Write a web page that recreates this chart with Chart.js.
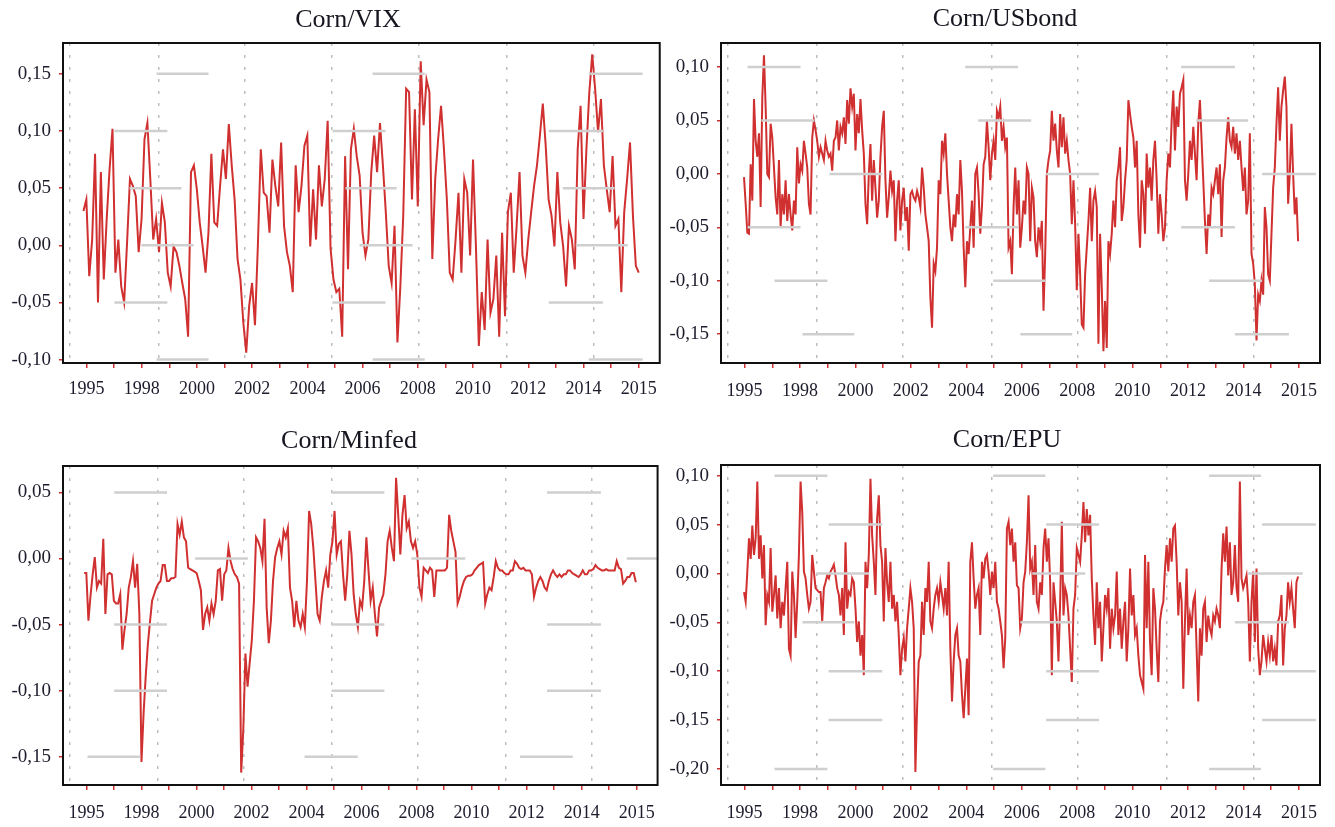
<!DOCTYPE html>
<html>
<head>
<meta charset="utf-8">
<script src="https://cdn.jsdelivr.net/npm/chart.js@4.4.1/dist/chart.umd.min.js"></script>
<style>
html, body { margin: 0; padding: 0; background: #fff; }
canvas { position: absolute; }
</style>
</head>
<body>
<canvas id="cVix" width="667" height="413" style="left:0;top:0"></canvas>
<canvas id="cBond" width="668" height="413" style="left:667px;top:0"></canvas>
<canvas id="cMinfed" width="667" height="414" style="left:0;top:413px"></canvas>
<canvas id="cEpu" width="668" height="414" style="left:667px;top:413px"></canvas>
<script>
// tick labels under the yearly ticks (0..20), as printed in the source figure
const yearLabels = ['1995', '', '1998', '', '2000', '', '2002', '', '2004', '', '2006', '',
                    '2008', '', '2010', '', '2012', '', '2014', '', '2015'];
// dotted vertical reference lines (same positions on all panels)
const dotGrid = [-0.6, 2.6, 5.72, 8.9, 12.03, 15.23, 18.38];

// Corn/VIX dynamic correlation
const vixValues = [
  0.030, 0.040, -0.027, 0.005, 0.080, -0.050, 0.064, -0.030, 0.023, 0.067,
  0.102, -0.024, 0.005, -0.036, -0.050, 0.002, 0.058, 0.052, 0.043, -0.006,
  0.023, 0.093, 0.107, 0.058, 0.005, 0.023, -0.006, 0.037, 0.020, -0.024,
  -0.036, -0.001, -0.006, -0.018, -0.033, -0.047, -0.080, 0.064, 0.070, 0.049,
  0.020, -0.001, -0.024, 0.011, 0.080, 0.020, 0.017, 0.052, 0.084, 0.058,
  0.106, 0.070, 0.040, -0.012, -0.030, -0.068, -0.094, -0.053, -0.033, -0.070,
  0.000, 0.084, 0.046, 0.043, 0.011, 0.075, 0.052, 0.034, 0.090, 0.017,
  -0.006, -0.018, -0.041, 0.070, 0.029, 0.052, 0.087, 0.096, -0.001, 0.049,
  0.005, 0.070, 0.034, 0.058, 0.109, -0.003, -0.030, -0.041, -0.038, -0.080,
  0.078, -0.021, 0.084, 0.102, 0.078, 0.061, 0.011, -0.009, 0.005,
  0.064, 0.096, 0.064, 0.107, 0.070, 0.029, -0.018, -0.033, 0.017, -0.085,
  -0.036, 0.026, 0.137, 0.134, 0.040, 0.119, 0.034, 0.161, 0.105, 0.145,
  0.134, -0.012, 0.058, 0.093, 0.122, 0.084, 0.040, -0.024, -0.030, 0.005,
  0.046, -0.024, 0.058, 0.046, -0.009, 0.075, -0.001, -0.088, -0.041, -0.074,
  0.005, -0.059, -0.047, -0.009, -0.080, 0.011, -0.062, 0.029, 0.046, -0.024,
  0.017, 0.064, -0.009, -0.024, 0.005, 0.029, 0.052, 0.070, 0.096, 0.124,
  0.087, 0.040, 0.026, -0.001, 0.064, 0.020, -0.001, -0.036, 0.017, 0.005,
  -0.021, 0.084, 0.122, 0.023, 0.084, 0.134, 0.167, 0.137, 0.099, 0.128,
  0.070, 0.049, 0.029, 0.078, 0.017, 0.023, -0.041, 0.029, 0.058, 0.090,
  0.026, -0.018, -0.024
];

// Corn/USbond
const bondValues = [
  -0.003, -0.028, -0.055, -0.056, 0.009, -0.025, 0.070, 0.031, 0.016, 0.038,
  -0.031, 0.072, 0.111, 0.063, 0.000, -0.003, 0.047, 0.034, 0.006, -0.022,
  -0.038, 0.013, -0.050, -0.019, -0.038, -0.006, -0.044, -0.019, -0.038, -0.053,
  -0.025, -0.038, 0.025, -0.009, 0.009, 0.003, 0.031, 0.019, 0.006, -0.028,
  -0.038, 0.034, 0.050, 0.041, 0.031, 0.016, 0.025, 0.019, 0.013, 0.031,
  0.022, 0.016, 0.019, 0.003, 0.031, 0.034, 0.050, 0.022, 0.044, 0.038,
  0.053, 0.028, 0.069, 0.047, 0.080, 0.063, 0.075, 0.022, 0.056, 0.038,
  0.070, 0.041, 0.019, -0.028, -0.047, 0.000, 0.028, -0.025, 0.013, -0.013,
  -0.041, -0.025, 0.016, 0.044, 0.059, -0.006, -0.041, -0.022, 0.003, -0.016,
  -0.006, -0.063, -0.025, -0.006, -0.053, -0.025, -0.013, -0.044, -0.031, -0.072,
  -0.019, -0.016, -0.022, -0.025, -0.016, -0.022, -0.031, 0.006, -0.013, -0.038,
  -0.050, -0.063, -0.116, -0.144, -0.084, -0.091, -0.069, -0.006, -0.019, 0.031,
  0.019, 0.038, 0.000, -0.025, -0.050, -0.063, -0.038, -0.050, -0.019, -0.038,
  0.013, -0.016, -0.069, -0.106, -0.063, -0.075, -0.050, -0.025, -0.069, 0.000,
  0.006, -0.019, -0.056, -0.031, 0.009, 0.016, 0.050, 0.025, -0.006, 0.019,
  0.031, 0.013, 0.059, 0.053, 0.063, 0.031, 0.044, 0.025, 0.034, -0.069,
  -0.063, -0.094, -0.031, 0.006, -0.038, -0.006, -0.069, -0.050, -0.025, -0.038,
  0.006, 0.000,
  -0.063, -0.013, -0.022, -0.063, -0.078, -0.050, -0.063, -0.044, -0.128, -0.075,
  0.000, 0.013, 0.022, 0.059, 0.031, 0.047, 0.022, 0.006, 0.056, 0.025,
  0.053, 0.019, 0.031, 0.013, 0.000, -0.047, -0.006, -0.047, -0.109, -0.056,
  -0.094, -0.141, -0.144, -0.094, -0.069, -0.044, -0.013, -0.063, -0.025, -0.016,
  -0.031, -0.159, -0.056, -0.106, -0.166, -0.119, -0.163, -0.063, -0.075, -0.056,
  -0.025, -0.050, -0.006, 0.006, 0.025, -0.044, -0.031, -0.006, 0.013, 0.069,
  0.056, 0.044, 0.034, 0.006, 0.031, -0.038, -0.069, -0.006, -0.019, -0.056,
  0.019, -0.013, 0.006, -0.025, 0.013, 0.031, -0.006, -0.056, -0.019, -0.038,
  -0.063, -0.050, -0.006, 0.019, 0.006, 0.050, 0.078, 0.022, 0.063, 0.044,
  0.075, 0.081, 0.088, -0.006, -0.025, 0.000, 0.031, 0.013, 0.044, 0.019,
  -0.006, 0.047, 0.069, 0.031, -0.006, -0.044, -0.075, -0.038, -0.050, -0.013,
  -0.019, -0.006, 0.006, -0.019, 0.009, -0.059, -0.006, 0.006, 0.034, 0.053,
  0.031, 0.025, 0.044, 0.019, 0.038, 0.013, 0.031, 0.006, -0.016, 0.006,
  -0.038, -0.025, 0.038, -0.075, -0.084, -0.103, -0.156, -0.113, -0.119, -0.100,
  -0.113, -0.031, -0.050, -0.094, -0.100, -0.056, -0.013, 0.006, 0.047, 0.081,
  0.031, 0.063, 0.078, 0.091, 0.063, -0.028, 0.000, 0.047, 0.000, -0.038,
  -0.022, -0.063
];

// Corn/Minfed
const minfedValues = [
  -0.011, -0.011, -0.047, -0.028, -0.012, 0.001, -0.022, -0.017, -0.019, 0.015,
  -0.042, -0.012, -0.011, -0.012, -0.032, -0.034, -0.034, -0.027, -0.069, -0.054,
  -0.042, -0.022, -0.014, -0.002, -0.022, -0.004, -0.042, -0.154, -0.117, -0.089,
  -0.065, -0.048, -0.032, -0.027, -0.022, -0.019, -0.017, -0.005, -0.005, -0.017,
  -0.017, -0.015, -0.015, -0.014, 0.026, 0.018, 0.028, 0.016, 0.013, -0.007,
  -0.008, -0.009, -0.010, -0.011, -0.017, -0.024, -0.054, -0.042, -0.037, -0.047,
  -0.034, -0.042, -0.032, -0.009, -0.008, -0.032, -0.012, -0.009, 0.008, -0.002,
  -0.008, -0.012, -0.014, -0.019, -0.162, -0.129, -0.072, -0.097, -0.079, -0.062,
  -0.032, 0.016, 0.013, 0.008, -0.002, 0.030, -0.037, -0.064, -0.047, -0.017,
  0.001, 0.008, 0.013, 0.003, 0.021, 0.016, 0.023, -0.022, -0.032, -0.052,
  -0.032, -0.047, -0.052, -0.042, -0.052, -0.017, 0.036, 0.026, 0.008, -0.017,
  -0.042, -0.047, -0.029, -0.017, -0.009, -0.022, 0.003, 0.013, 0.036, 0.003,
  0.011, 0.013, -0.012, -0.032, -0.012, 0.021, 0.003, -0.027, -0.042, -0.052,
  -0.032, -0.037, -0.017, 0.016, -0.009, -0.032, -0.022, -0.042, -0.059, -0.037,
  -0.032, -0.027, -0.012, 0.013, 0.021, 0.008, -0.002, 0.061, 0.033, 0.003,
  0.033, 0.048, 0.023, 0.028, 0.013, 0.008, 0.013, 0.003, -0.022, -0.029,
  -0.007, -0.009, -0.011, -0.007, -0.009, -0.029, -0.009, -0.009, -0.009, -0.009,
  -0.009, -0.007, 0.033, 0.021, 0.013, 0.005, -0.034, -0.029, -0.022, -0.017,
  -0.014, -0.013, -0.013, -0.012, -0.009, -0.007, -0.005, -0.004, -0.003, -0.034,
  -0.027, -0.022, -0.024, -0.014, -0.002, -0.007, -0.009, -0.009, -0.011, -0.012,
  -0.012, -0.009, -0.009, -0.002, -0.004, -0.007, -0.008, -0.007, -0.009, -0.009,
  -0.009, -0.012, -0.029, -0.022, -0.017, -0.014, -0.017, -0.022, -0.024, -0.017,
  -0.012, -0.009, -0.012, -0.014, -0.012, -0.014, -0.012, -0.012, -0.009, -0.009,
  -0.011, -0.012, -0.013, -0.014, -0.012, -0.009, -0.012, -0.012, -0.009, -0.009,
  -0.008, -0.005, -0.007, -0.008, -0.009, -0.009, -0.008, -0.009, -0.009, -0.009,
  -0.009, -0.002, -0.007, -0.008, -0.019, -0.017, -0.014, -0.014, -0.011, -0.011,
  -0.018
];

// Corn/EPU
const epuValues = [
  -0.019, -0.029, 0.002, 0.036, 0.015, 0.049, 0.019, 0.036, 0.094, 0.015,
  0.039, -0.005, 0.029, -0.053, -0.022, -0.029, 0.026, -0.039, -0.022, -0.002,
  -0.046, -0.015, -0.056, -0.029, -0.043, -0.015, 0.012, -0.077, -0.084, 0.002,
  -0.022, -0.066, -0.029, 0.019, 0.094, 0.063, 0.002, -0.005, -0.022, -0.036,
  -0.029, 0.019, 0.002, -0.015, -0.017, -0.019, -0.019, -0.049, -0.015, -0.009,
  -0.002, -0.005, 0.002, 0.005, 0.009, -0.002, -0.015, -0.022, -0.043, -0.015,
  -0.063, 0.032, -0.036, -0.019, -0.022, -0.005, -0.009, -0.036, -0.070, -0.049,
  -0.084, -0.063, -0.104, 0.012, -0.015, 0.019, 0.097, 0.039, 0.012, -0.022,
  0.056, 0.080, 0.029, 0.012, -0.049, 0.026, -0.009, -0.029, 0.012, -0.036,
  -0.022, -0.049, -0.029, -0.063, -0.104, -0.077, -0.066, -0.090, -0.056, -0.036,
  -0.015, -0.029, -0.056, -0.203, -0.138, -0.090, -0.084, -0.029, -0.063, -0.015,
  -0.029, 0.012, -0.049, -0.056, -0.036, -0.022, -0.015, -0.029, -0.009, -0.022,
  -0.036, -0.015, -0.043, 0.012, -0.077, -0.131, -0.090, -0.063, -0.056, -0.084,
  -0.090, -0.124, -0.148, -0.118, -0.087, -0.145, 0.012, 0.032, -0.005, -0.036,
  -0.022, -0.015, -0.063, 0.012, -0.005, 0.015, 0.019, 0.002, -0.022, 0.002,
  -0.015, 0.012, -0.029, -0.036, -0.049, -0.063, -0.097, -0.066, 0.046, 0.053,
  0.029, 0.046, 0.012, 0.032, -0.012, -0.015, -0.056, -0.046, -0.009, 0.002,
  0.032, 0.080,
  0.005, 0.012, -0.022, 0.029, -0.029, -0.036, -0.009, -0.022, 0.026, 0.046,
  0.012, 0.036, -0.009, -0.104, -0.009, -0.029, -0.049, -0.090, -0.029, 0.053,
  -0.043, -0.015, -0.022, -0.043, -0.077, -0.111, -0.036, -0.022, 0.026, 0.019,
  0.012, 0.039, 0.073, 0.032, 0.066, 0.039, 0.060, -0.005, -0.043, -0.073,
  -0.009, -0.056, -0.029, -0.090, -0.056, -0.022, -0.036, -0.015, -0.077, -0.036,
  -0.056, -0.043, 0.002, -0.063, -0.036, -0.077, -0.049, -0.029, -0.090, -0.056,
  0.005, -0.043, -0.022, -0.063, -0.056, -0.084, -0.104, -0.111, -0.118, 0.019,
  -0.056, 0.012, -0.070, -0.104, -0.015, -0.036, -0.077, -0.111, -0.049, -0.036,
  -0.029, 0.005, 0.029, 0.002, 0.036, 0.012, 0.046, 0.049, 0.012, -0.043,
  -0.009, -0.029, -0.118, -0.049, 0.005, -0.063, -0.043, -0.056, -0.029, -0.022,
  -0.077, -0.131, -0.056, -0.084, -0.036, -0.029, -0.070, -0.043, -0.056, -0.063,
  -0.043, -0.049, -0.036, -0.043, -0.056, 0.005, 0.041, 0.012, 0.048, -0.002,
  0.032, -0.022, -0.009, 0.029, -0.015, -0.029, 0.094, -0.005, -0.015, -0.009,
  -0.002, -0.029, -0.090, -0.029, 0.002, -0.070, 0.005, -0.077, -0.104, -0.090,
  -0.063, -0.077, -0.090, -0.070, -0.084, -0.063, -0.090, -0.077, -0.094, -0.049,
  -0.043, -0.022, -0.094, -0.056, -0.043, -0.009, -0.029, -0.015, -0.036, -0.056,
  -0.009, -0.003
];

// light grey dashes left in the figure at tick levels: [level, from, to]
const vixGuides = [
  [0.15, 2.54, 4.42], [0.15, 10.36, 12.25], [0.15, 18.19, 20.14],
  [0.10, 1.01, 2.93], [0.10, 8.91, 10.83], [0.10, 16.74, 18.70],
  [0.05, 1.56, 3.44], [0.05, 9.38, 11.23], [0.05, 17.25, 19.13],
  [0, 1.99, 3.88], [0, 9.89, 11.81], [0, 17.72, 19.6],
  [-0.05, 1.01, 2.93], [-0.05, 8.91, 10.83], [-0.05, 16.74, 18.70],
  [-0.10, 2.54, 4.42], [-0.10, 10.36, 12.25], [-0.10, 18.19, 20.14]
];
const bondGuides = [
  [0.10, 0.11, 2.02], [0.10, 7.96, 9.87], [0.10, 15.75, 17.69],
  [0.05, 0.61, 2.52], [0.05, 8.43, 10.34], [0.05, 16.29, 18.16],
  [0, 3.06, 4.97], [0, 10.88, 12.79], [0, 18.67, 20.61],
  [-0.05, 0.11, 2.02], [-0.05, 7.96, 9.87], [-0.05, 15.75, 17.69],
  [-0.10, 1.08, 2.99], [-0.10, 8.97, 10.85], [-0.10, 16.76, 18.67],
  [-0.15, 2.09, 3.96], [-0.15, 9.95, 11.82], [-0.15, 17.69, 19.64]
];
const minfedGuides = [
  [0.05, 1.01, 2.93], [0.05, 8.91, 10.83], [0.05, 16.74, 18.70],
  [0, 3.95, 5.87], [0, 11.81, 13.77], [0, 19.64, 20.8],
  [-0.05, 1.01, 2.93], [-0.05, 8.91, 10.83], [-0.05, 16.74, 18.70],
  [-0.10, 1.01, 2.93], [-0.10, 8.91, 10.83], [-0.10, 16.74, 18.70],
  [-0.15, 0.04, 1.96], [-0.15, 7.93, 9.86], [-0.15, 15.76, 17.68]
];
const epuGuides = [
  [0.10, 1.08, 2.99], [0.10, 8.97, 10.85], [0.10, 16.76, 18.63],
  [0.05, 3.03, 4.97], [0.05, 10.88, 12.79], [0.05, 18.67, 20.61],
  [0, 2.59, 4.5], [0, 10.38, 12.29], [0, 18.16, 20.14],
  [-0.05, 2.09, 3.96], [-0.05, 9.95, 11.82], [-0.05, 17.69, 19.64],
  [-0.10, 3.03, 4.97], [-0.10, 10.88, 12.79], [-0.10, 18.67, 20.61],
  [-0.15, 3.03, 4.97], [-0.15, 10.88, 12.79], [-0.15, 18.67, 20.61],
  [-0.20, 1.08, 2.99], [-0.20, 8.97, 10.85], [-0.20, 16.76, 18.63]
];

var RED = '#d03030';
var INK = '#1c1c2c';

// spread a weekly-ish series evenly over its time span (in years from 1995)
function toPoints(vals, from, to) {
  var step = (to - from) / (vals.length - 1);
  return vals.map(function (v, i) { return { x: from + i * step, y: v }; });
}

function guidePoints(guides) {
  var pts = [];
  guides.forEach(function (g) {
    pts.push({ x: g[1], y: g[0] }, { x: g[2], y: g[0] }, { x: g[2], y: null });
  });
  return pts;
}

function commaFmt(v) {
  if (Math.abs(v) < 1e-9) return '0,00';
  return v.toFixed(2).replace('.', ',');
}

// black box around the plot area
var framePlugin = {
  id: 'frame',
  afterDraw: function (chart) {
    var a = chart.chartArea, c = chart.ctx;
    c.save();
    c.strokeStyle = '#111';
    c.lineWidth = 2;
    c.strokeRect(a.left, a.top, a.right - a.left, a.bottom - a.top);
    c.restore();
  }
};

// panel heading, placed a bit left of the plot centre like the source
var headingPlugin = {
  id: 'heading',
  afterDraw: function (chart, args, opts) {
    var c = chart.ctx;
    c.save();
    c.font = '26px "Liberation Serif"';
    c.fillStyle = '#161620';
    c.textAlign = 'center';
    c.textBaseline = 'middle';
    c.fillText(opts.text, opts.x, opts.y);
    c.restore();
  }
};

function makePanel(id, p) {
  var ctx = document.getElementById(id).getContext('2d');
  return new Chart(ctx, {
    type: 'line',
    data: {
      datasets: [{
        data: guidePoints(p.guides),
        xAxisID: 'x', yAxisID: 'y',
        borderColor: '#cfcfcf', borderWidth: 2.5,
        pointRadius: 0, spanGaps: false
      }, {
        data: toPoints(p.values, p.from, p.to),
        xAxisID: 'x', yAxisID: 'y',
        borderColor: RED, borderWidth: 2,
        pointRadius: 0, tension: 0
      }]
    },
    options: {
      responsive: false,
      animation: false,
      devicePixelRatio: 1,
      layout: { padding: { left: 0, right: p.padRight, top: p.top, bottom: 0 } },
      plugins: {
        legend: { display: false },
        tooltip: { enabled: false },
        heading: { text: p.title, x: p.titleX, y: p.titleY }
      },
      scales: {
        x: {
          type: 'linear',
          min: -0.85, max: 20.76,
          afterFit: function (s) { s.height = p.xHeight; },
          ticks: {
            stepSize: 1, autoSkip: false, maxRotation: 0, includeBounds: false,
            color: INK, padding: p.xPad,
            font: { family: 'Liberation Serif', size: 18 },
            callback: function (v) { return yearLabels[Math.round(v)] || ''; }
          },
          grid: { drawOnChartArea: false, color: RED, tickLength: 5, lineWidth: 1.5 },
          border: { display: false }
        },
        xg: {
          type: 'linear',
          position: 'top',
          min: -0.85, max: 20.76,
          afterBuildTicks: function (s) { s.ticks = dotGrid.map(function (v) { return { value: v }; }); },
          afterFit: function (s) { s.height = 0; },
          ticks: { display: false },
          grid: { color: '#bdbdbd', lineWidth: 1.5, drawTicks: false },
          border: { display: false, dash: [3, 9] }
        },
        y: {
          min: p.yMin, max: p.yMax,
          afterFit: function (s) { s.width = p.yWidth; },
          ticks: {
            stepSize: 0.05, includeBounds: false,
            color: INK, padding: 8,
            font: { family: 'Liberation Serif', size: 19 },
            callback: commaFmt
          },
          grid: { drawOnChartArea: false, color: RED, tickLength: 4, lineWidth: 1.5 },
          border: { display: false }
        }
      }
    },
    plugins: [framePlugin, headingPlugin]
  });
}

makePanel('cVix', {
  title: 'Corn/VIX', values: vixValues, guides: vixGuides, from: -0.11, to: 20.0,
  yMin: -0.103, yMax: 0.177, padRight: 5, yWidth: 63, top: 43,
  titleX: 348, titleY: 20.5, xHeight: 50, xPad: 10
});
makePanel('cBond', {
  title: 'Corn/USbond', values: bondValues, guides: bondGuides, from: -0.02, to: 19.97,
  yMin: -0.177, yMax: 0.1225, padRight: 15, yWidth: 54, top: 43,
  titleX: 338, titleY: 19.2, xHeight: 50, xPad: 12
});
makePanel('cMinfed', {
  title: 'Corn/Minfed', values: minfedValues, guides: minfedGuides, from: -0.08, to: 19.97,
  yMin: -0.1714, yMax: 0.070, padRight: 5, yWidth: 63, top: 53,
  titleX: 349, titleY: 27.8, xHeight: 42, xPad: 12
});
makePanel('cEpu', {
  title: 'Corn/EPU', values: epuValues, guides: epuGuides, from: -0.02, to: 19.97,
  yMin: -0.2164, yMax: 0.111, padRight: 15, yWidth: 54, top: 52,
  titleX: 340, titleY: 27.5, xHeight: 42, xPad: 12
});
</script>
</body>
</html>
